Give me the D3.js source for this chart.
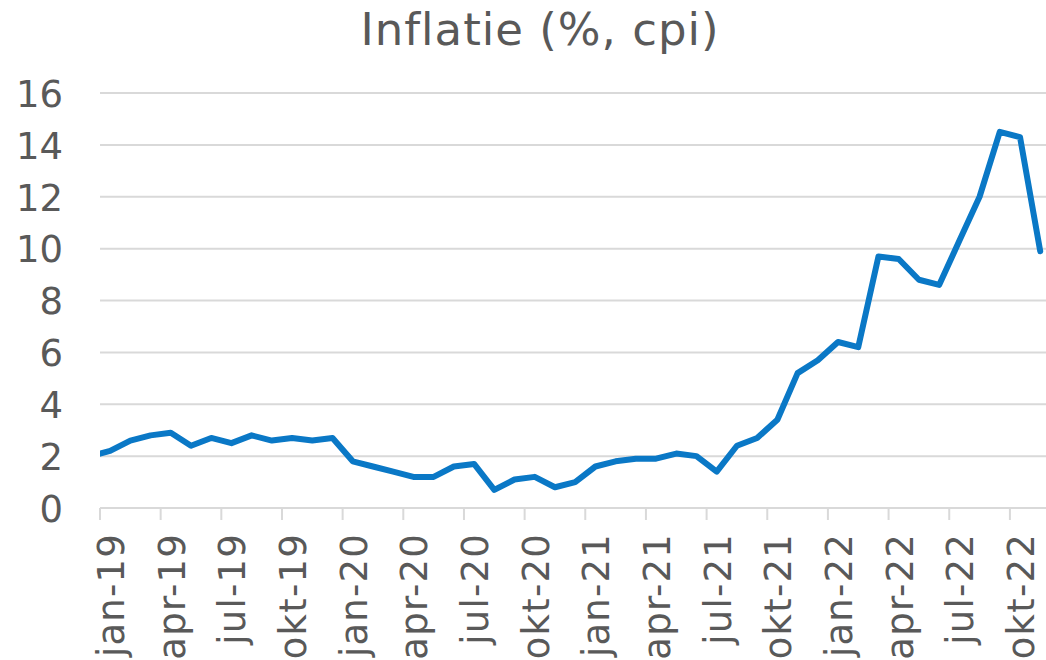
<!DOCTYPE html>
<html>
<head>
<meta charset="utf-8">
<script src="https://cdn.jsdelivr.net/npm/d3@7"></script>
<style>
  html, body { margin: 0; padding: 0; background: #fff; }
  svg { display: block; }
  text { font-family: "DejaVu Sans", Verdana, sans-serif; fill: #595959; }
</style>
</head>
<body>
<svg id="chart" width="1046" height="660"></svg>
<script>
// Months (dec-18 lies just before the axis start and is clipped, as in the original)
const months = [
  "dec-18",
  "jan-19","feb-19","mrt-19","apr-19","mei-19","jun-19","jul-19","aug-19","sep-19","okt-19","nov-19","dec-19",
  "jan-20","feb-20","mrt-20","apr-20","mei-20","jun-20","jul-20","aug-20","sep-20","okt-20","nov-20","dec-20",
  "jan-21","feb-21","mrt-21","apr-21","mei-21","jun-21","jul-21","aug-21","sep-21","okt-21","nov-21","dec-21",
  "jan-22","feb-22","mrt-22","apr-22","mei-22","jun-22","jul-22","aug-22","sep-22","okt-22","nov-22"
];
const cpi = [
  2.0,
  2.2, 2.6, 2.8, 2.9, 2.4, 2.7, 2.5, 2.8, 2.6, 2.7, 2.6, 2.7,
  1.8, 1.6, 1.4, 1.2, 1.2, 1.6, 1.7, 0.7, 1.1, 1.2, 0.8, 1.0,
  1.6, 1.8, 1.9, 1.9, 2.1, 2.0, 1.4, 2.4, 2.7, 3.4, 5.2, 5.7,
  6.4, 6.2, 9.7, 9.6, 8.8, 8.6, 10.3, 12.0, 14.5, 14.3, 9.9
];
const xTickLabels = ["jan-19","apr-19","jul-19","okt-19","jan-20","apr-20","jul-20","okt-20",
                     "jan-21","apr-21","jul-21","okt-21","jan-22","apr-22","jul-22","okt-22"];
const yTicks = [0, 2, 4, 6, 8, 10, 12, 14, 16];
const title = "Inflatie (%, cpi)";

const svg = d3.select("#chart");
const W = 1046;
const plot = { left: 100, right: 1046, top: 93, bottom: 508 };

// month-slot scale: slot index 0 = jan-19 (starts at the jan-19 tick), points at slot middles
const x = d3.scaleLinear().domain([0, 47]).range([plot.left, plot.left + 47 * 20.22]);
const slotOf = m => months.indexOf(m) - 1; // jan-19 -> 0
const y = d3.scaleLinear().domain([0, 16]).range([plot.bottom, plot.top]);

// title
svg.append("text")
  .attr("x", 540).attr("y", 45)
  .attr("text-anchor", "middle")
  .style("font-size", "45px")
  .style("letter-spacing", "1px")
  .text(title);

// gridlines
svg.append("g").selectAll("line")
  .data(yTicks.filter(d => d > 0))
  .join("line")
  .attr("x1", plot.left).attr("x2", plot.right)
  .attr("y1", d => y(d)).attr("y2", d => y(d))
  .attr("stroke", "#d9d9d9").attr("stroke-width", 2);

// y axis labels
const yAxis = d3.axisLeft(y).tickValues(yTicks).tickSize(0).tickPadding(0).tickFormat(d3.format("d"));
const gy = svg.append("g").attr("transform", `translate(${plot.left - 37},0)`).call(yAxis);
gy.select(".domain").remove();
gy.selectAll("text").style("font-size", "37px").attr("fill", "#595959")
  .attr("font-family", "DejaVu Sans").attr("dy", "0.36em");

// x axis line + ticks
const tickSlots = xTickLabels.map(slotOf);
const gx = svg.append("g");
gx.append("line")
  .attr("x1", plot.left).attr("x2", plot.right)
  .attr("y1", plot.bottom).attr("y2", plot.bottom)
  .attr("stroke", "#d9d9d9").attr("stroke-width", 2);
gx.selectAll("line.tick")
  .data(tickSlots)
  .join("line").attr("class", "tick")
  .attr("x1", d => x(d)).attr("x2", d => x(d))
  .attr("y1", plot.bottom).attr("y2", plot.bottom + 12)
  .attr("stroke", "#d9d9d9").attr("stroke-width", 2);
gx.selectAll("text")
  .data(xTickLabels)
  .join("text")
  .attr("transform", d => `translate(${x(slotOf(d) + 0.5)},533) rotate(-90)`)
  .attr("text-anchor", "end")
  .attr("dy", "0.38em")
  .style("font-size", "37px")
  .style("letter-spacing", "1.2px")
  .text(d => d);

// clip for the line
svg.append("clipPath").attr("id", "plotclip")
  .append("rect").attr("x", plot.left).attr("y", 0).attr("width", W - plot.left).attr("height", 660);

const line = d3.line()
  .x((d, i) => x(i - 1 + 0.5))
  .y(d => y(d));

svg.append("path")
  .datum(cpi)
  .attr("clip-path", "url(#plotclip)")
  .attr("fill", "none")
  .attr("stroke", "#0a78c6")
  .attr("stroke-width", 6)
  .attr("stroke-linejoin", "round")
  .attr("stroke-linecap", "round")
  .attr("d", line);
</script>
</body>
</html>
